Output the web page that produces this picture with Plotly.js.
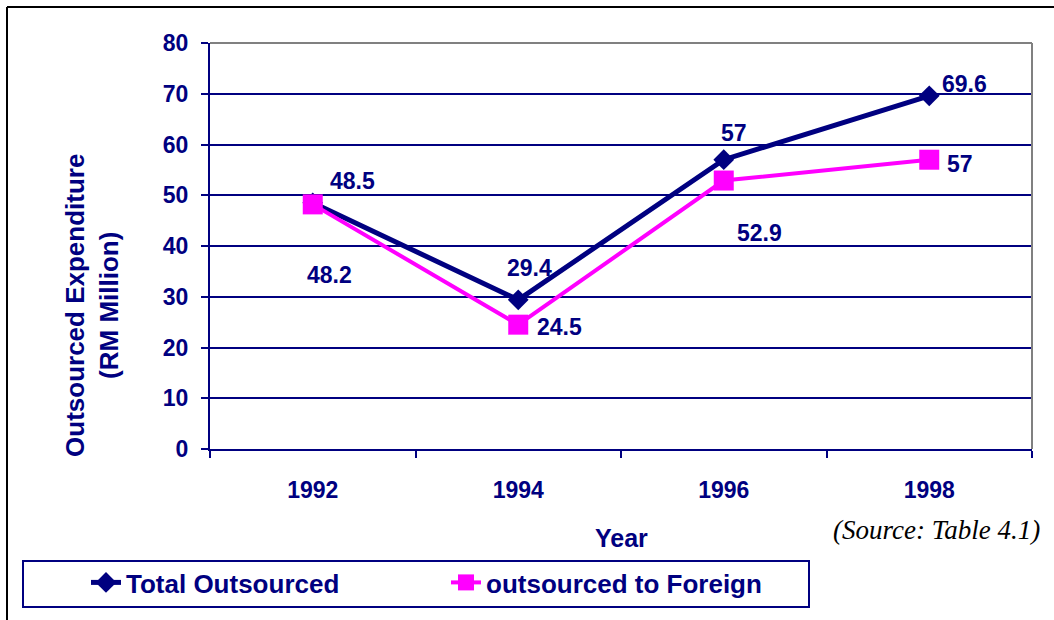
<!DOCTYPE html>
<html>
<head>
<meta charset="utf-8">
<script src="https://cdn.plot.ly/plotly-3.0.1.min.js"></script>
<style>
  html, body { margin: 0; padding: 0; background: #ffffff; }
  #chart { width: 1054px; height: 620px; }
</style>
</head>
<body>
<div id="chart"></div>
<script>
// ---- data ----
const years = ['1992', '1994', '1996', '1998'];
const totalOutsourced = [48.5, 29.4, 57, 69.6];
const outsourcedForeign = [48.2, 24.5, 52.9, 57];
const seriesNames = ['Total Outsourced', 'outsourced to Foreign'];
const yTicks = [0, 10, 20, 30, 40, 50, 60, 70, 80];

// ---- label placement (pixel offsets from each point, styling only) ----
const totalLabelShift = [[40, 22], [11, 32], [10, 27], [35, 12]];
const foreignLabelShift = [[17, -71], [41, -2], [36, -52], [31, -4]];

const NAVY = '#000080';
const MAGENTA = '#FF00FF';
const FONT = 'Liberation Sans, Arial, sans-serif';

const traces = [
  {
    x: years, y: totalOutsourced, name: seriesNames[0],
    type: 'scatter', mode: 'lines+markers',
    line: { color: NAVY, width: 5 },
    marker: { symbol: 'diamond', size: 16, color: NAVY },
    hoverinfo: 'x+y'
  },
  {
    x: years, y: outsourcedForeign, name: seriesNames[1],
    type: 'scatter', mode: 'lines+markers',
    line: { color: MAGENTA, width: 4 },
    marker: { symbol: 'square', size: 20, color: MAGENTA },
    hoverinfo: 'x+y'
  }
];

const annotations = [];
function addLabels(vals, shifts) {
  vals.forEach((v, i) => {
    annotations.push({
      // category axis: position by category index
      x: years.indexOf(years[i]), y: v, xref: 'x', yref: 'y',
      text: String(v), showarrow: false,
      xshift: shifts[i][0], yshift: shifts[i][1],
      font: { family: FONT, size: 23, color: NAVY, weight: 'bold' }
    });
  });
}
addLabels(totalOutsourced, totalLabelShift);
addLabels(outsourcedForeign, foreignLabelShift);

// y axis title
annotations.push({
  xref: 'paper', yref: 'paper', x: -0.1436, y: 0.3547,
  xanchor: 'center', yanchor: 'middle', textangle: -90,
  text: '<b>Outsourced Expenditure</b><br><b>(RM Million)</b>', showarrow: false,
  font: { family: FONT, size: 26, color: NAVY }
});
// x axis title
annotations.push({
  xref: 'paper', yref: 'paper', x: (621 - 210) / 822, y: (449 - 538) / 406,
  xanchor: 'center', yanchor: 'middle',
  text: '<b>Year</b>', showarrow: false,
  font: { family: FONT, size: 25, color: NAVY }
});
// source note
annotations.push({
  xref: 'paper', yref: 'paper', x: (936 - 210) / 822, y: (449 - 530) / 406,
  xanchor: 'center', yanchor: 'middle',
  text: '<i>(Source: Table 4.1)</i>', showarrow: false,
  font: { family: 'Liberation Serif, Times New Roman, serif', size: 27, color: '#000000' }
});

const px = X => (X - 210) / 822;
const py = Y => (449 - Y) / 406;

const shapes = [
  // outer frame (left + top)
  { type: 'line', xref: 'paper', yref: 'paper', x0: px(7), x1: px(7), y0: py(7), y1: py(625), line: { color: '#000000', width: 2 } },
  { type: 'line', xref: 'paper', yref: 'paper', x0: px(7), x1: px(1060), y0: py(7), y1: py(7), line: { color: '#000000', width: 2 } },
  // plot area border (top + right) in gray
  { type: 'line', xref: 'paper', yref: 'paper', x0: 0, x1: 1, y0: 1, y1: 1, line: { color: '#808080', width: 2 } },
  { type: 'line', xref: 'paper', yref: 'paper', x0: 1, x1: 1, y0: 0, y1: 1, line: { color: '#808080', width: 2 } },
  // legend frame
  { type: 'rect', xref: 'paper', yref: 'paper', x0: px(23), x1: px(809), y0: py(561), y1: py(607), line: { color: NAVY, width: 2 }, fillcolor: 'rgba(0,0,0,0)' }
];

const layout = {
  width: 1054, height: 620,
  margin: { l: 210, r: 22, t: 43, b: 171 },
  paper_bgcolor: '#ffffff', plot_bgcolor: '#ffffff',
  font: { family: FONT, color: NAVY },
  showlegend: true,
  legend: {
    orientation: 'h',
    x: px(86), y: py(559), xanchor: 'left', yanchor: 'top',
    borderwidth: 0, bgcolor: 'rgba(0,0,0,0)',
    font: { family: FONT, size: 26, color: NAVY, weight: 'bold' },
    entrywidth: 315,
    traceorder: 'normal'
  },
  xaxis: {
    type: 'category',
    range: [-0.5, 3.5],
    showgrid: false,
    showline: true, linecolor: NAVY, linewidth: 2,
    ticks: 'outside', tickson: 'boundaries', ticklen: 7, tickwidth: 2, tickcolor: NAVY,
    tickfont: { family: FONT, size: 23, color: NAVY, weight: 'bold' },
    ticklabelstandoff: 19,
    zeroline: false, fixedrange: true
  },
  yaxis: {
    range: [0, 80],
    tickvals: yTicks,
    showgrid: true, gridcolor: NAVY, gridwidth: 2,
    showline: true, linecolor: NAVY, linewidth: 2,
    ticks: 'outside', ticklen: 7, tickwidth: 2, tickcolor: NAVY,
    tickfont: { family: FONT, size: 23, color: NAVY, weight: 'bold' },
    ticklabelstandoff: 8,
    zeroline: false, fixedrange: true
  },
  annotations: annotations,
  shapes: shapes
};

Plotly.newPlot('chart', traces, layout, { displayModeBar: false, staticPlot: true });
</script>
</body>
</html>
